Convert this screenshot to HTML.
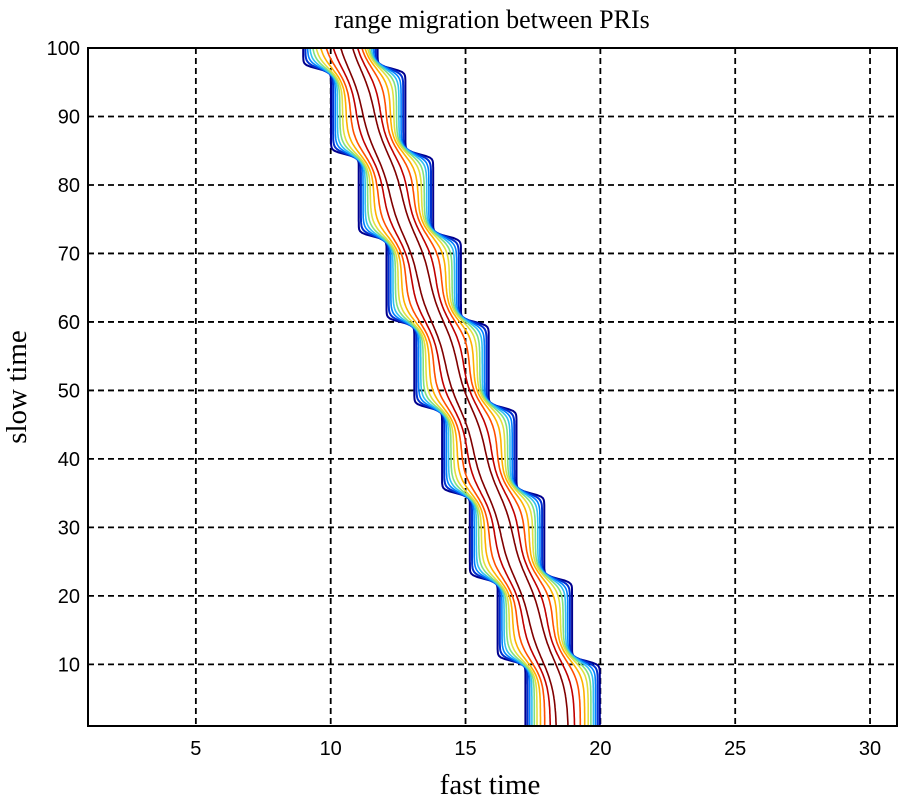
<!DOCTYPE html>
<html><head><meta charset="utf-8"><style>
body{margin:0;background:#fff}
svg text{fill:#000}
.tick{font-family:"Liberation Sans",sans-serif;font-size:20px}
.lab{font-family:"Liberation Serif",serif;font-size:29px}
</style></head><body>
<svg id="chart" width="900" height="800" viewBox="0 0 900 800" xmlns="http://www.w3.org/2000/svg">
<defs><clipPath id="clip"><rect x="88" y="48" width="809" height="678"/></clipPath></defs>
<rect width="900" height="800" fill="#fff"/>
<g id="grid"></g>
<g id="series" clip-path="url(#clip)"></g>
<rect x="88" y="48" width="809" height="678" fill="none" stroke="#000" stroke-width="2"/>
<g id="ticks"></g>
<text class="lab" x="492" y="28" text-anchor="middle" style="font-size:26px">range migration between PRIs</text>
<text class="lab" x="490" y="794" text-anchor="middle">fast time</text>
<text class="lab" transform="translate(26,387) rotate(-90)" text-anchor="middle">slow time</text>
</svg>
<script>
const xTicks=[5,10,15,20,25,30];
const yTicks=[10,20,30,40,50,60,70,80,90,100];
const stepTimes=[10.5,22.5,35,47.5,60,72.5,84.5,97];
const startCenter=18.6;
const stepSize=1.03;
const levelHalfWidths=[1.38,1.3,1.22,1.14,1.05,0.95,0.82,0.66,0.45,0.22];
const levelColors=["#00008f","#0030d0","#0080ff","#30c0f0","#80e080","#e0e040","#ffb000","#ff5000","#c00000","#800000"];
const X0=1,X1=31,Y0=1,Y1=100;
const sx=v=>88+(v-X0)/(X1-X0)*809;
const sy=v=>726-(v-Y0)/(Y1-Y0)*678;
const NS="http://www.w3.org/2000/svg";
const grid=document.getElementById('grid'),ticks=document.getElementById('ticks'),ser=document.getElementById('series');
function mk(t,a,p){const e=document.createElementNS(NS,t);for(const k in a)e.setAttribute(k,a[k]);p.appendChild(e);return e;}
xTicks.forEach(v=>{
  const l=mk('line',{x1:sx(v),x2:sx(v),y1:48,y2:726,stroke:'#000','stroke-width':1.8,'stroke-dasharray':'6,4'},grid);
  
  
  const t=mk('text',{x:sx(v),y:755,'text-anchor':'middle',class:'tick'},ticks);t.textContent=v;
  
  
});
yTicks.forEach(v=>{
  if(v<100){const l=mk('line',{x1:88,x2:897,y1:sy(v),y2:sy(v),stroke:'#000','stroke-width':1.8,'stroke-dasharray':'6,4'},grid);
  
  }
  const t=mk('text',{x:80,y:sy(v)+7,'text-anchor':'end',class:'tick'},ticks);t.textContent=v;
  
  
});
function center(y,soft){let c=startCenter;stepTimes.forEach(s=>{c-=stepSize/(1+Math.exp(-(y-s)/soft));});return c;}
levelHalfWidths.forEach((hw,i)=>{
  const soft=0.25+(1-hw/1.38)*2.6;
  [-1,1].forEach(side=>{
    let d='';
    for(let y=0;y<=101;y+=0.25){const x=center(y,soft)+side*hw;d+=(d?'L':'M')+sx(x).toFixed(1)+','+sy(y).toFixed(1);}
    const p=mk('path',{d:d,fill:'none',stroke:levelColors[i],'stroke-width':i<2?2:1.6},ser);
    
    
  });
});
</script>
</body></html>
